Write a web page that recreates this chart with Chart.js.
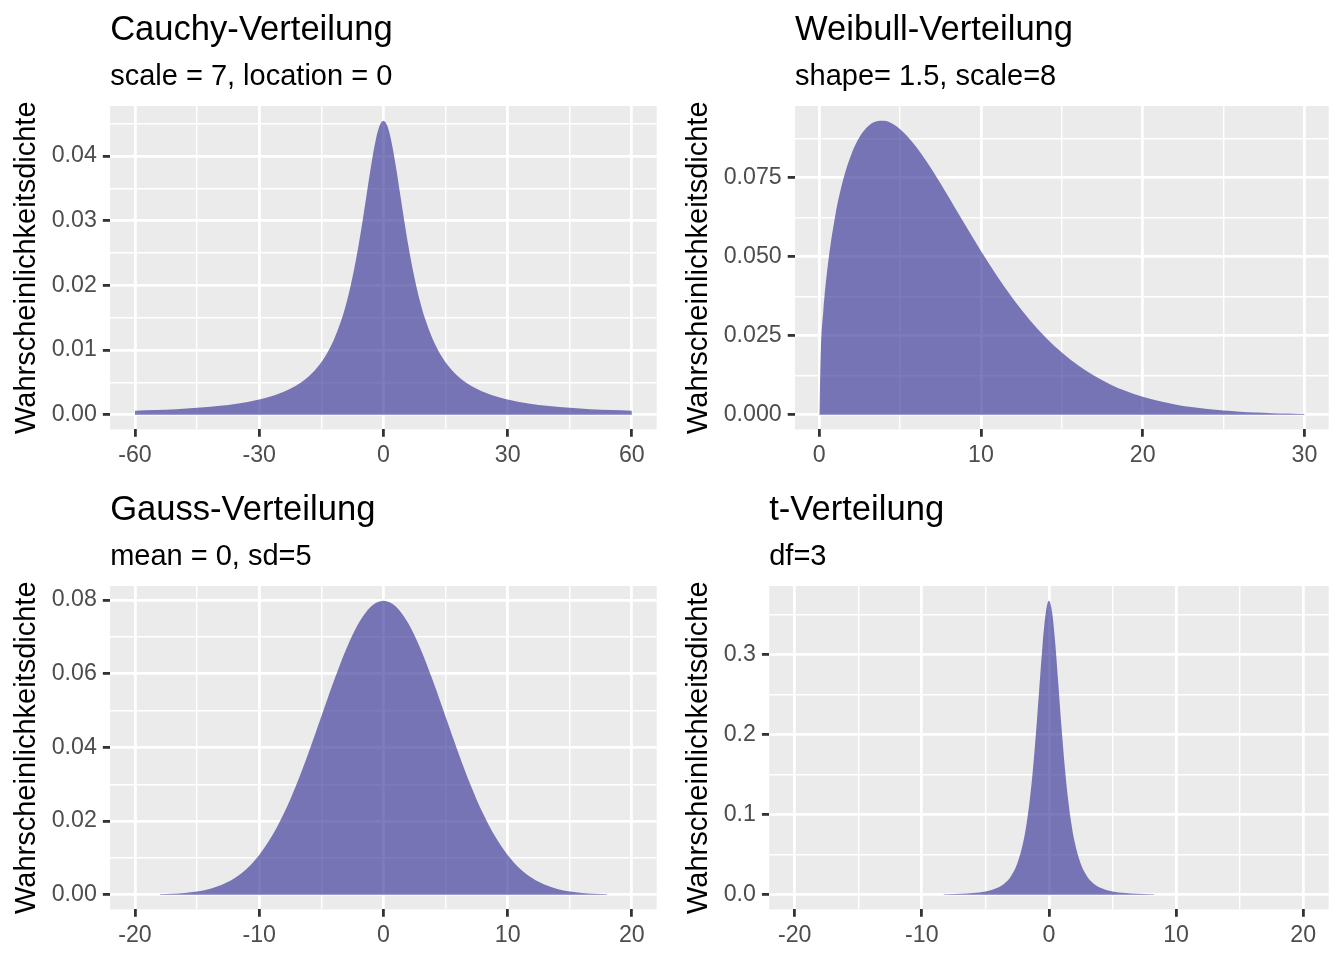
<!DOCTYPE html>
<html>
<head>
<meta charset="utf-8">
<script src="https://cdn.jsdelivr.net/npm/chart.js@4"></script>
<style>
  body { margin: 0; background: #ffffff; }
  .panel { position: absolute; width: 672px; height: 480px; }
</style>
</head>
<body>
<div class="panel" style="left:0;top:0"><canvas id="cauchy" width="672" height="480"></canvas></div>
<div class="panel" style="left:672px;top:0"><canvas id="weibull" width="672" height="480"></canvas></div>
<div class="panel" style="left:0;top:480px"><canvas id="gauss" width="672" height="480"></canvas></div>
<div class="panel" style="left:672px;top:480px"><canvas id="tdist" width="672" height="480"></canvas></div>
<script>
// values
const cauchyX = [-60,-55,-50,-45,-40,-35,-30,-25,-20,-18,-16,-14,-12,-10,-9,-8,-7,-6,-5,-4,-3,-2,-1,0,
  1,2,3,4,5,6,7,8,9,10,12,14,16,18,20,25,30,35,40,45,50,55,60];
const cauchyY = [0.00061,0.00072,0.00087,0.00107,0.00135,0.00175,0.00235,0.00331,0.00496,0.00597,0.00731,0.00909,0.01155,0.01495,0.01714,0.01972,0.02274,0.02621,0.03011,0.03428,0.03842,0.04204,0.04456,0.04547,
  0.04456,0.04204,0.03842,0.03428,0.03011,0.02621,0.02274,0.01972,0.01714,0.01495,0.01155,0.00909,0.00731,0.00597,0.00496,0.00331,0.00235,0.00175,0.00135,0.00107,0.00087,0.00072,0.00061];

const weibullX = [0,0.1,0.25,0.5,1,1.5,2,2.5,3,3.5,4,4.5,5,6,7,8,9,10,11,12,13,14,15,16,17,18,19,20,21,22,23,24,25,26,27,28,29,30];
const weibullY = [0,0.02093,0.03296,0.04615,0.06343,0.07486,0.08273,0.08802,0.09126,0.09286,0.09310,0.09223,0.09043,0.08481,0.07737,0.06898,0.06031,0.05182,0.04385,0.03658,0.03012,0.02450,0.01971,0.01567,0.01234,0.00962,0.00744,0.00569,0.00432,0.00325,0.00243,0.00180,0.00132,0.00097,0.00070,0.00050,0.00036,0.00026];

const gaussX = [-18,-17,-16,-15,-14,-13,-12,-11,-10,-9,-8,-7,-6,-5,-4,-3,-2,-1,0,1,2,3,4,5,6,7,8,9,10,11,12,13,14,15,16,17,18];
const gaussY = [0.00012,0.00025,0.00048,0.00089,0.00158,0.00272,0.00448,0.00709,0.01080,0.01579,0.02218,0.02995,0.03884,0.04839,0.05794,0.06664,0.07365,0.07821,0.07979,
  0.07821,0.07365,0.06664,0.05794,0.04839,0.03884,0.02995,0.02218,0.01579,0.01080,0.00709,0.00448,0.00272,0.00158,0.00089,0.00048,0.00025,0.00012];

const tX = [-8.3,-8,-7,-6,-5,-4,-3.5,-3,-2.5,-2,-1.75,-1.5,-1.25,-1,-0.75,-0.5,-0.25,0,
  0.25,0.5,0.75,1,1.25,1.5,1.75,2,2.5,3,3.5,4,5,6,7,8,8.3];
const tY = [0.00064,0.00074,0.00122,0.00218,0.00422,0.00916,0.01422,0.02297,0.03866,0.06751,0.09000,0.12002,0.15891,0.20675,0.26064,0.31318,0.35270,0.36755,
  0.35270,0.31318,0.26064,0.20675,0.15891,0.12002,0.09000,0.06751,0.03866,0.02297,0.01422,0.00916,0.00422,0.00218,0.00122,0.00074,0.00064];

// axis breaks and labels
const cauchyXMajor = [-60,-30,0,30,60];
const cauchyXMinor = [-45,-15,15,45];
const cauchyYMajor = [0,0.01,0.02,0.03,0.04];
const cauchyYMinor = [0.005,0.015,0.025,0.035,0.045];
const cauchyYLabels = ['0.00','0.01','0.02','0.03','0.04'];

const weibullXMajor = [0,10,20,30];
const weibullXMinor = [5,15,25];
const weibullYMajor = [0,0.025,0.05,0.075];
const weibullYMinor = [0.0125,0.0375,0.0625,0.0875];
const weibullYLabels = ['0.000','0.025','0.050','0.075'];

const gaussXMajor = [-20,-10,0,10,20];
const gaussXMinor = [-15,-5,5,15];
const gaussYMajor = [0,0.02,0.04,0.06,0.08];
const gaussYMinor = [0.01,0.03,0.05,0.07];
const gaussYLabels = ['0.00','0.02','0.04','0.06','0.08'];

const tXMajor = [-20,-10,0,10,20];
const tXMinor = [-15,-5,5,15];
const tYMajor = [0,0.1,0.2,0.3];
const tYMinor = [0.05,0.15,0.25,0.35];
const tYLabels = ['0.0','0.1','0.2','0.3'];

const FONT = "'Liberation Sans', Arial, Helvetica, sans-serif";
const AREA = 'rgba(55,52,150,0.65)';

const panelBg = {
  id: 'panelBg',
  beforeDraw(chart) {
    const a = chart.chartArea;
    const ctx = chart.ctx;
    ctx.save();
    ctx.fillStyle = '#EBEBEB';
    ctx.fillRect(a.left, a.top, a.right - a.left, a.bottom - a.top);
    ctx.restore();
  }
};

function axis(min, max, major, minor, labels, isY) {
  const all = major.concat(minor).sort((a, b) => a - b);
  const isMajor = v => major.indexOf(v) >= 0;
  const ax = {
    type: 'linear',
    min: min,
    max: max,
    border: { display: false },
    afterBuildTicks: sc => { sc.ticks = all.map(v => ({ value: v })); },
    grid: {
      color: '#FFFFFF',
      lineWidth: c => (c.tick && isMajor(c.tick.value)) ? 2.8 : 1.4,
      tickColor: c => (c.tick && isMajor(c.tick.value)) ? '#333333' : 'rgba(0,0,0,0)',
      tickWidth: 2.8,
      tickLength: 7.3
    },
    ticks: {
      autoSkip: false,
      maxRotation: 0,
      color: '#4D4D4D',
      font: { family: FONT, size: 23.2 },
      padding: isY ? 6 : 4.8,
      callback: v => {
        const i = major.indexOf(v);
        if (i < 0) return '';
        return labels ? labels[i] : String(v);
      }
    }
  };
  if (isY) {
    ax.title = {
      display: true,
      text: 'Wahrscheinlichkeitsdichte',
      color: '#000000',
      font: { family: FONT, size: 29 },
      padding: { top: 4.6, bottom: 1.3 }
    };
  }
  return ax;
}

function makePanel(id, title, subtitle, xs, ys, xScale, yScale) {
  const pts = xs.map((x, i) => ({ x: x, y: ys[i] }));
  return new Chart(document.getElementById(id), {
    type: 'line',
    data: {
      datasets: [{
        data: pts,
        fill: 'origin',
        backgroundColor: AREA,
        borderColor: 'rgba(0,0,0,0)',
        borderWidth: 0,
        pointRadius: 0,
        cubicInterpolationMode: 'monotone'
      }]
    },
    options: {
      responsive: false,
      animation: false,
      layout: { padding: { top: 0, left: 5, right: 15.3, bottom: 5.8 } },
      plugins: {
        legend: { display: false },
        tooltip: { enabled: false },
        title: {
          display: true, text: title, align: 'start', fullSize: false,
          color: '#000000', font: { family: FONT, size: 34.6, weight: 'normal' },
          padding: { top: 10, bottom: 0 }
        },
        subtitle: {
          display: true, text: subtitle, align: 'start', fullSize: false,
          color: '#000000', font: { family: FONT, size: 29, weight: 'normal' },
          padding: { top: 8, bottom: 11.7 }
        }
      },
      scales: { x: xScale, y: yScale }
    },
    plugins: [panelBg]
  });
}

makePanel('cauchy', 'Cauchy-Verteilung', 'scale = 7, location = 0', cauchyX, cauchyY,
  axis(-66, 66, cauchyXMajor, cauchyXMinor, null, false),
  axis(-0.002274, 0.047744, cauchyYMajor, cauchyYMinor, cauchyYLabels, true));

makePanel('weibull', 'Weibull-Verteilung', 'shape= 1.5, scale=8', weibullX, weibullY,
  axis(-1.5, 31.5, weibullXMajor, weibullXMinor, null, false),
  axis(-0.004655, 0.097755, weibullYMajor, weibullYMinor, weibullYLabels, true));

makePanel('gauss', 'Gauss-Verteilung', 'mean = 0, sd=5', gaussX, gaussY,
  axis(-22, 22, gaussXMajor, gaussXMinor, null, false),
  axis(-0.00399, 0.08378, gaussYMajor, gaussYMinor, gaussYLabels, true));

makePanel('tdist', 't-Verteilung', 'df=3', tX, tY,
  axis(-22, 22, tXMajor, tXMinor, null, false),
  axis(-0.01838, 0.38593, tYMajor, tYMinor, tYLabels, true));
</script>
</body>
</html>
